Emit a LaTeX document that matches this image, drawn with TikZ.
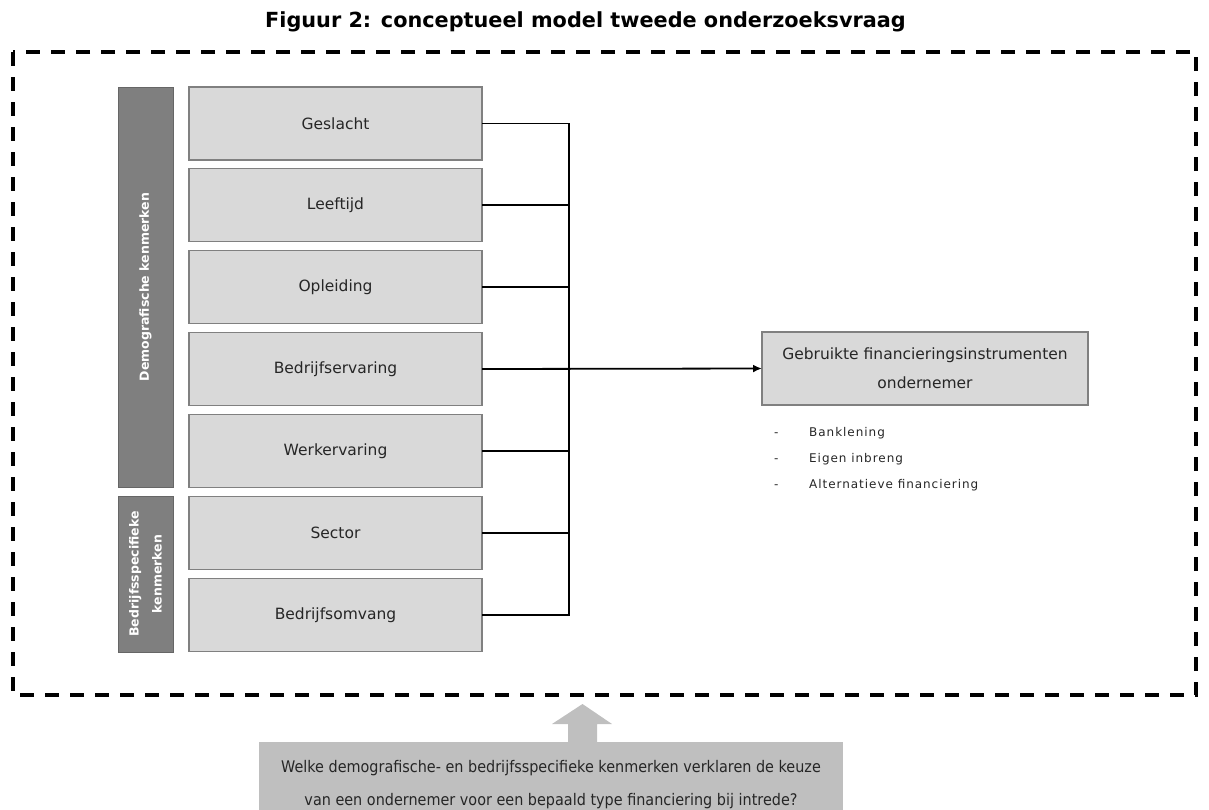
\documentclass[tikz,border=0pt]{standalone}
\usepackage{fontspec}
\setmainfont{DejaVu Sans}
\newfontfamily\listfont[LetterSpace=8]{DejaVu Sans}
\newfontfamily\qfont[FakeStretch=0.9]{DejaVu Sans}
\usetikzlibrary{arrows.meta}
\definecolor{barfill}{HTML}{7F7F7F}
\definecolor{barline}{HTML}{666666}
\definecolor{boxfill}{HTML}{D9D9D9}
\definecolor{boxline}{HTML}{808080}
\definecolor{qfill}{HTML}{BFBFBF}
\tikzset{
  varbox/.style={draw=boxline, fill=boxfill, line width=1.2pt, minimum width=293pt, minimum height=73pt, inner sep=0pt, outer sep=0pt, font=\fontsize{15.5}{18}\selectfont, text=black!85},
  sidebar/.style={draw=barline, fill=barfill, line width=1pt, minimum width=55pt, inner sep=0pt, outer sep=0pt},
  sidelabel/.style={text=white, font=\fontsize{12.5}{23}\selectfont\bfseries, rotate=90, align=center},
  conn/.style={line width=1.8pt, black},
  listitem/.style={anchor=base west, font=\listfont\fontsize{12}{14}\selectfont, text=black!85, inner sep=0pt},
}
\begin{document}
\begin{tikzpicture}[x=1pt,y=-1pt]
\useasboundingbox (0,0) rectangle (1209,809);
% title
\node[anchor=base, font=\fontsize{20.8}{24}\selectfont\bfseries, inner sep=0pt] (title) at (585.5,27) {Figuur 2: conceptueel model tweede onderzoeksvraag};
% dashed frame
\draw[line width=3.2pt, dash pattern=on 14pt off 11pt] (13,52) rectangle (1196,695);
% side bars
\node[sidebar, minimum height=400pt] (bar1) at (145.5,287) {};
\node[sidelabel] (bar1t) at (bar1.center) {Demografische kenmerken};
\node[sidebar, minimum height=156pt] (bar2) at (145.5,574) {};
\node[sidelabel] (bar2t) at (bar2.center) {Bedrijfsspecifieke\\kenmerken};
% variable boxes
\node[varbox] (b1) at (335.5,123.5) {Geslacht};
\node[varbox] (b2) at (335.5,205) {Leeftijd};
\node[varbox] (b3) at (335.5,287) {Opleiding};
\node[varbox] (b4) at (335.5,369) {Bedrijfservaring};
\node[varbox] (b5) at (335.5,451) {Werkervaring};
\node[varbox] (b6) at (335.5,533) {Sector};
\node[varbox] (b7) at (335.5,615) {Bedrijfsomvang};
% target
\node[varbox, minimum width=326pt, align=center, font=\fontsize{15.5}{29}\selectfont] (tgt) at (925,368.5) {Gebruikte financieringsinstrumenten\\ondernemer};
% connectors
\coordinate (jt) at (569,123.5);
\coordinate (jb) at (569,615);
\draw[conn] (b1.east) -- (jt) -- (jb) -- (b7.east);
\draw[conn] (b2.east) -- (b2.east -| jt);
\draw[conn] (b3.east) -- (b3.east -| jt);
\draw[conn] (b5.east) -- (b5.east -| jt);
\draw[conn] (b6.east) -- (b6.east -| jt);
\draw[conn, -{Latex[length=9pt,width=8pt]}] (b4.east) -- (tgt.west);
% list
\node[listitem] (d1) at (774,436) {-};
\node[listitem] (l1) at (809,436) {Banklening};
\node[listitem] (d2) at (774,462) {-};
\node[listitem] (l2) at (809,462) {Eigen inbreng};
\node[listitem] (d3) at (774,488) {-};
\node[listitem] (l3) at (809,488) {Alternatieve financiering};
% question
\fill[qfill] (568,742) -- (568,724) -- (552,724) -- (582.5,704) -- (612,724) -- (597,724) -- (597,742) -- cycle;
\node[fill=qfill, minimum width=584pt, minimum height=86pt, inner sep=0pt, align=center, font=\qfont\fontsize{16}{33}\selectfont, text=black!85] (q) at (551,785) {Welke demografische- en bedrijfsspecifieke kenmerken verklaren de keuze\\van een ondernemer voor een bepaald type financiering bij intrede?};
\end{tikzpicture}
\end{document}
